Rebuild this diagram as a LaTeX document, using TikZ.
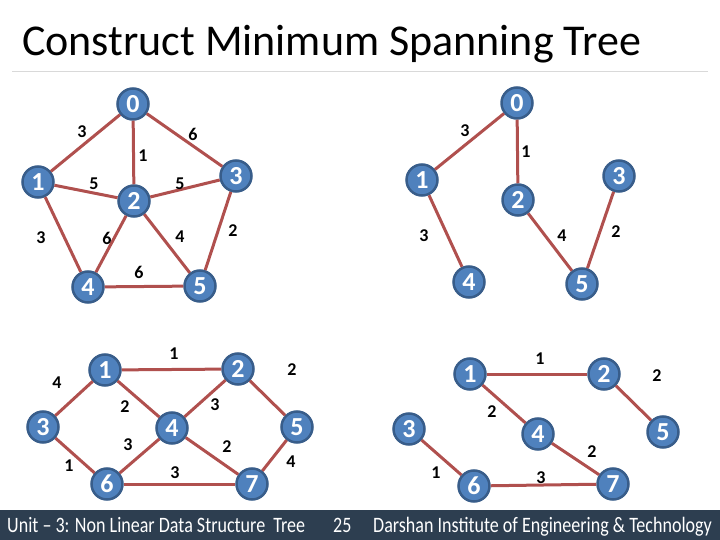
\documentclass[tikz,border=0pt]{standalone}
\usepackage{fontspec}
\setmainfont{Carlito}
\newfontfamily\footfont[FakeStretch=0.82]{Carlito}
\definecolor{nodeblue}{RGB}{79,129,189}
\definecolor{nodeline}{RGB}{56,93,138}
\definecolor{edgered}{RGB}{176,80,78}
\definecolor{footbar}{RGB}{45,62,80}
\tikzset{
  vtx/.style={circle,fill=nodeblue,draw=nodeline,line width=2.5pt,minimum size=31pt,
    inner sep=0pt,text=white,font=\fontsize{26}{26}\selectfont\bfseries},
  wt/.style={font=\fontsize{18}{18}\selectfont\bfseries},
  arc/.style={edgered,line width=3pt},
  foot/.style={text=white,anchor=base west,inner sep=0pt,font=\footfont\fontsize{22}{22}\selectfont}
}

\begin{document}
\begin{tikzpicture}[x=1pt,y=-1pt]
\useasboundingbox (0,0) rectangle (720,540);
\node[anchor=base west,inner sep=0pt,font=\fontsize{44}{44}\selectfont] (title) at (22,56) {Construct Minimum Spanning Tree};
\draw[black!15,line width=1pt] (12,72) -- (708,72);

% full graph, top left
\foreach \n/\x/\y in {0/133/104,1/38/182,2/134/201,3/236/176,4/88/287,5/200/286}
  \node[vtx] (a\n) at (\x,\y) {\n};
\foreach \a/\b in {0/1,0/2,0/3,1/2,2/3,1/4,2/4,2/5,3/5,4/5}
  \draw[arc] (a\a) -- (a\b);
\foreach \w/\x/\y [count=\i] in {3/82/132,6/193/134,1/143/156,5/94/184,5/180/184,3/41/238,6/107/238,4/180/237,2/233/231,6/139/272}
  \node[wt] (aw\i) at (\x,\y) {\w};

% its spanning tree, top right
\foreach \n/\x/\y in {0/517/103,1/422/180,2/518/200,3/619/176,4/469/282,5/582/284}
  \node[vtx] (b\n) at (\x,\y) {\n};
\foreach \a/\b in {0/1,0/2,1/4,2/5,3/5}
  \draw[arc] (b\a) -- (b\b);
\foreach \w/\x/\y [count=\i] in {3/465/131,1/526/152,3/424/236,4/562/236,2/616/232}
  \node[wt] (bw\i) at (\x,\y) {\w};

% full graph, bottom left
\foreach \n/\x/\y in {1/105/370,2/238/369,3/43/427,4/172/428,5/297/427,6/107/484,7/252/484}
  \node[vtx] (c\n) at (\x,\y) {\n};
\foreach \a/\b in {1/2,1/3,1/4,2/4,2/5,3/6,4/6,4/7,5/7,6/7}
  \draw[arc] (c\a) -- (c\b);
\foreach \w/\x/\y [count=\i] in {1/174/354,2/292/370,4/57/383,2/125/407,3/215/405,3/128/445,2/227/447,1/69/466,3/175/473,4/291/462}
  \node[wt] (cw\i) at (\x,\y) {\w};

% its spanning tree, bottom right
\foreach \n/\x/\y in {1/470/374,2/604/374,3/409/429,4/538/434,5/663/432,6/474/486,7/613/484}
  \node[vtx] (d\n) at (\x,\y) {\n};
\foreach \a/\b in {1/2,1/4,2/5,3/6,4/7,6/7}
  \draw[arc] (d\a) -- (d\b);
\foreach \w/\x/\y [count=\i] in {1/540/359,2/657/376,2/492/412,2/592/452,1/436/473,3/541/478}
  \node[wt] (dw\i) at (\x,\y) {\w};

% footer
\fill[footbar] (0,510) rectangle (720,540);
\node[foot] (unit) at (7,532) {Unit – 3: Non Linear Data Structure\ \ Tree};
\node[foot] (page) at (333,532) {25};
\node[foot] (inst) at (373,532) {Darshan Institute of Engineering \& Technology};
\end{tikzpicture}
\end{document}
